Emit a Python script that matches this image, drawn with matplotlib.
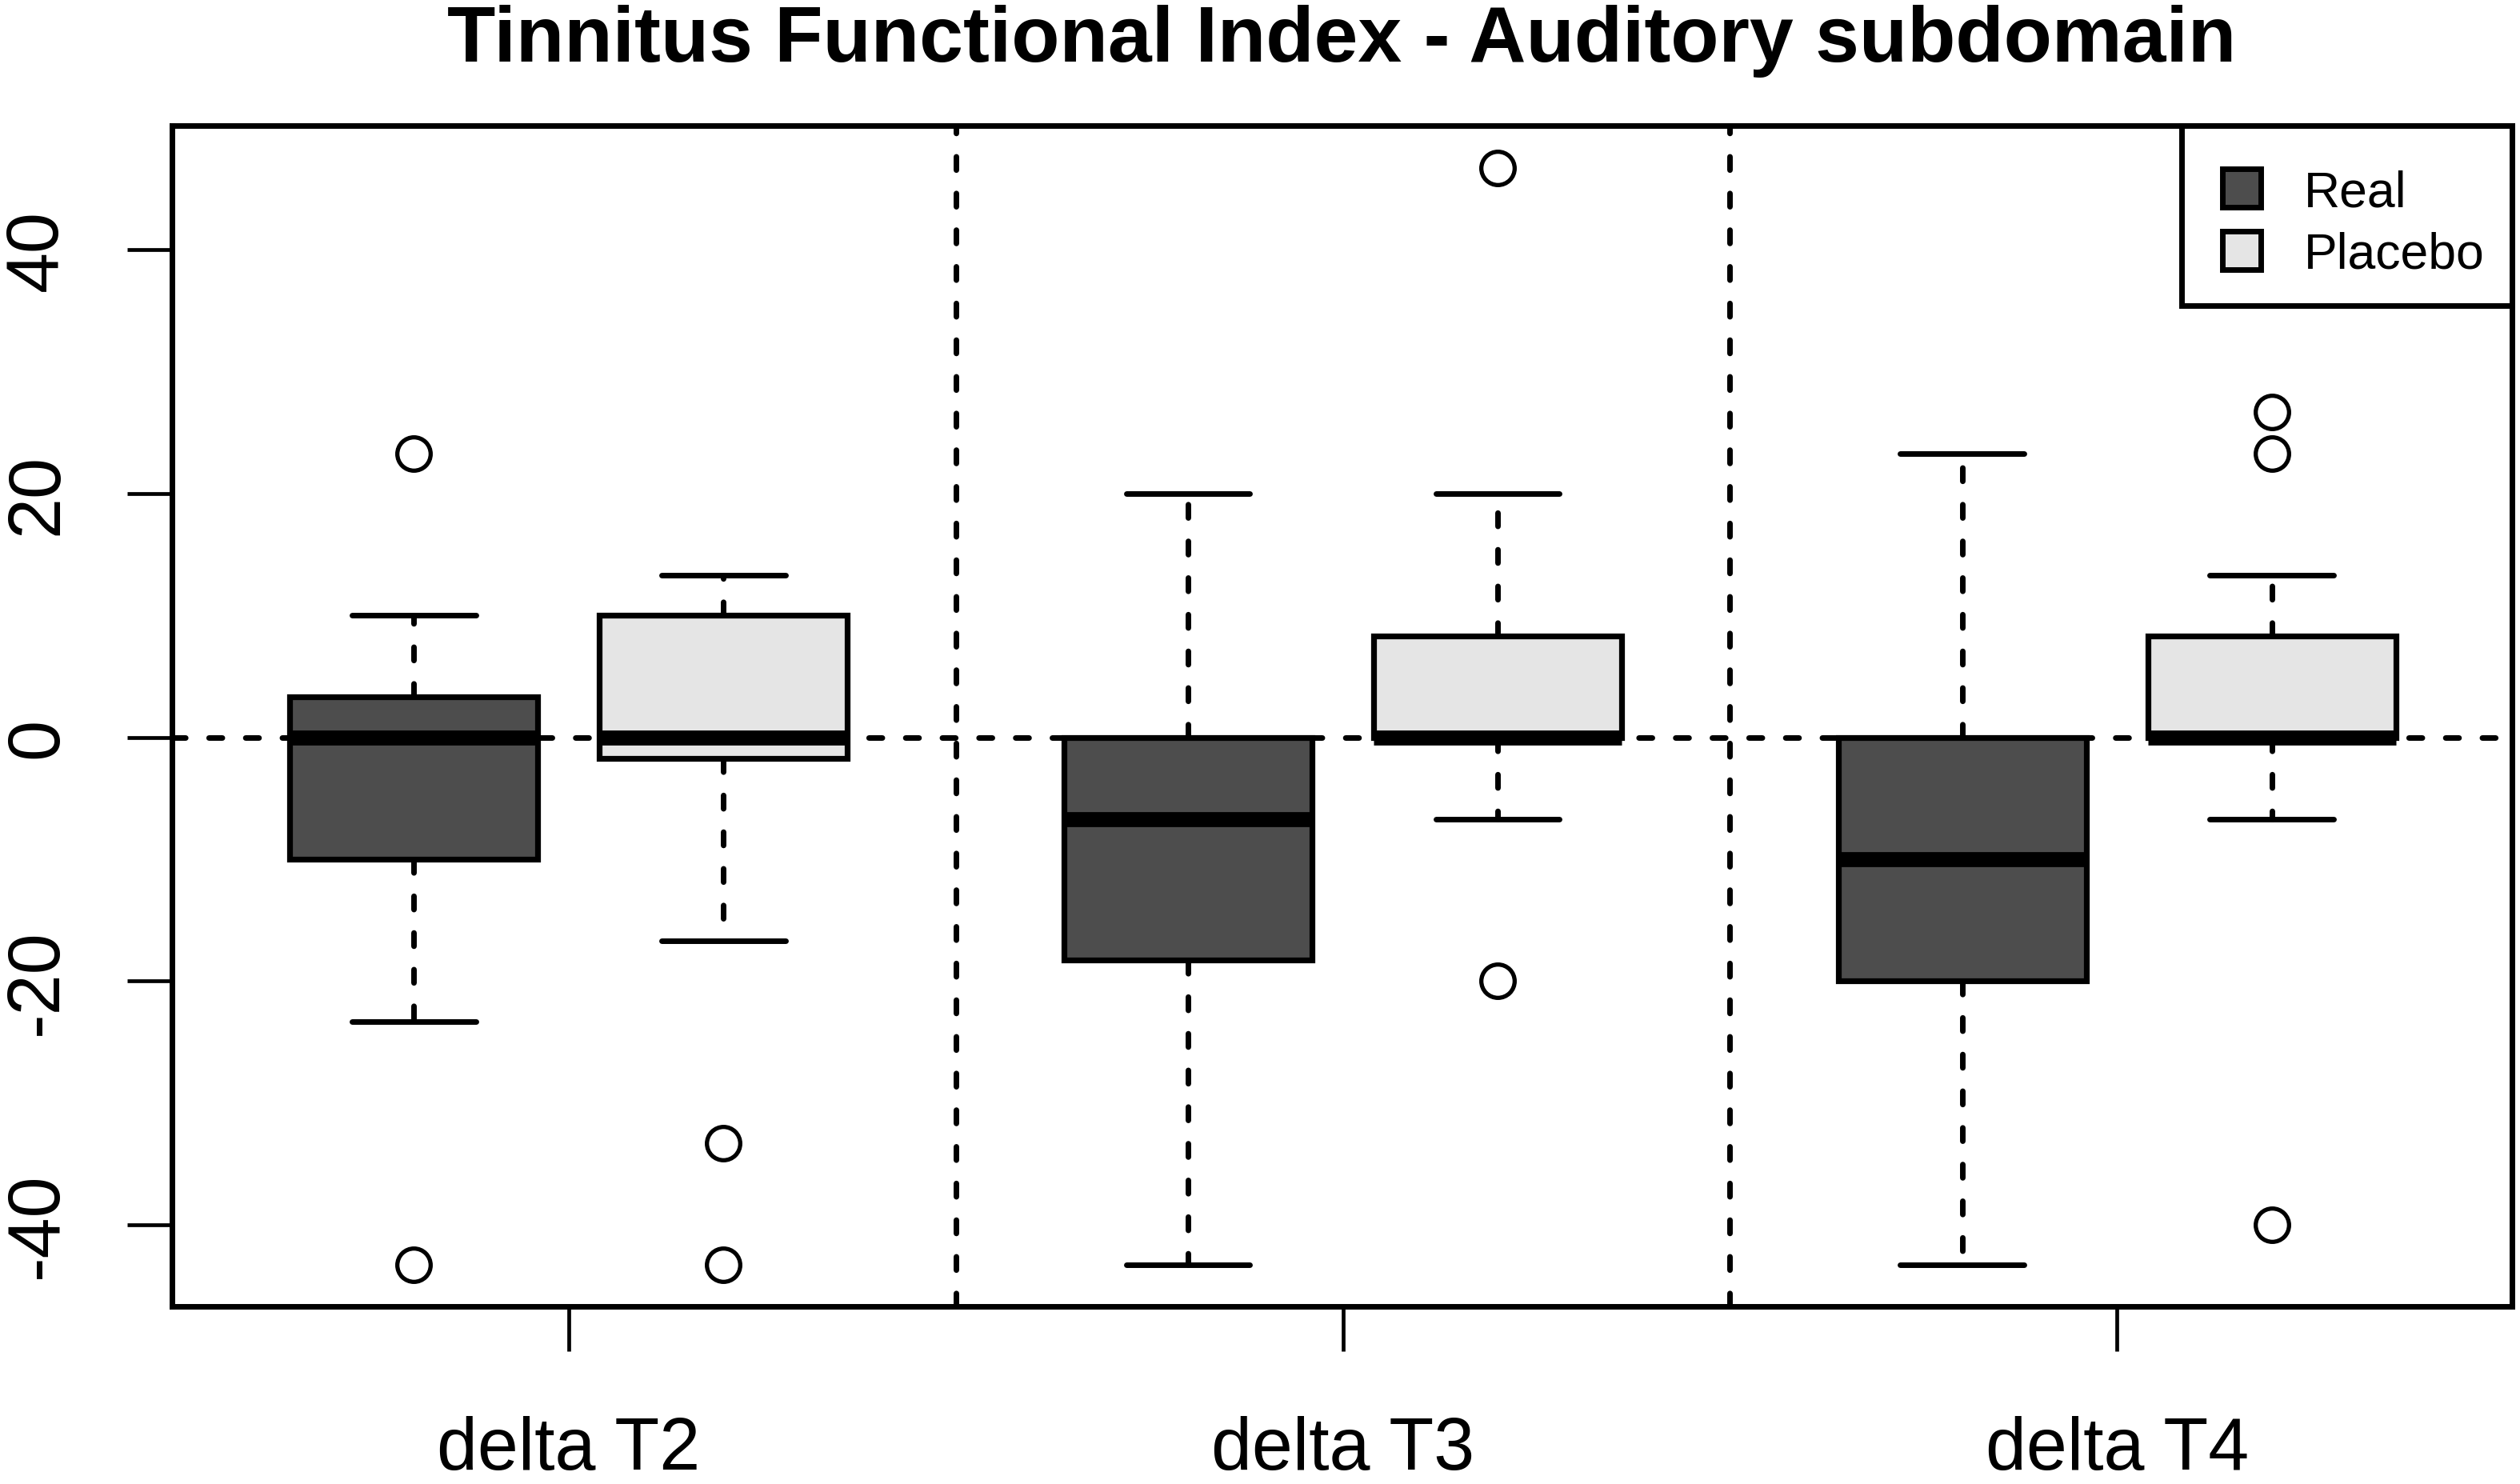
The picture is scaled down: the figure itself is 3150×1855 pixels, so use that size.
import matplotlib
matplotlib.use("Agg")
import matplotlib.pyplot as plt
from matplotlib.lines import Line2D

plt.rcParams['font.family'] = ['Liberation Sans', 'DejaVu Sans']
plt.rcParams['axes.unicode_minus'] = False

# values
groups = ["delta T2", "delta T3", "delta T4"]
group_pos = [1, 2, 3]

real_q1 = [-10.0, -18.3, -20.0]
real_med = [0.0, -6.7, -10.0]
real_q3 = [3.3, 0.0, 0.0]
real_whislo = [-23.3, -43.3, -43.3]
real_whishi = [10.0, 20.0, 23.3]
real_fliers = [[23.3, -43.3], [], []]

plac_q1 = [-1.7, 0.0, 0.0]
plac_med = [0.0, 0.0, 0.0]
plac_q3 = [10.0, 8.3, 8.3]
plac_whislo = [-16.7, -6.7, -6.7]
plac_whishi = [13.3, 20.0, 13.3]
plac_fliers = [[-33.3, -43.3], [46.7, -20.0], [26.7, 23.3, -40.0]]

yticks = [-40, -20, 0, 20, 40]
real_color = "#4D4D4D"
plac_color = "#E5E5E5"


def make_stats(q1, med, q3, lo, hi, fl):
    return [dict(q1=a, med=b, q3=c, whislo=d, whishi=e, fliers=f)
            for a, b, c, d, e, f in zip(q1, med, q3, lo, hi, fl)]


fig = plt.figure(figsize=(31.5, 18.56), dpi=100)
ax = fig.add_axes([0.0683, 0.1196, 0.9285, 0.7953])

dash = (0, (2.4, 4.2))

# reference lines under the boxes
ax.axhline(0, color="black", lw=5, ls=dash, dash_capstyle="round", zorder=1)
for x in [1.5, 2.5]:
    ax.axvline(x, color="black", lw=5, ls=dash, dash_capstyle="round", zorder=1)

box_lw = 5.2
common = dict(widths=0.32, capwidths=0.16, patch_artist=True,
              medianprops=dict(color="black", lw=13.5, solid_capstyle="butt"),
              whiskerprops=dict(color="black", lw=5, ls=dash, dash_capstyle="round"),
              capprops=dict(color="black", lw=5, solid_capstyle="round"),
              flierprops=dict(marker="o", markersize=30, markerfacecolor="none",
                              markeredgecolor="black", markeredgewidth=3.8),
              manage_ticks=False)

real_pos = [p - 0.2 for p in group_pos]
plac_pos = [p + 0.2 for p in group_pos]
ax.bxp(make_stats(real_q1, real_med, real_q3, real_whislo, real_whishi, real_fliers),
       positions=real_pos,
       boxprops=dict(facecolor=real_color, edgecolor="black", lw=box_lw),
       **common)
ax.bxp(make_stats(plac_q1, plac_med, plac_q3, plac_whislo, plac_whishi, plac_fliers),
       positions=plac_pos,
       boxprops=dict(facecolor=plac_color, edgecolor="black", lw=box_lw),
       **common)

ax.set_xlim(0.488, 3.51)
ax.set_ylim(-46.7, 50.2)
ax.set_xticks(group_pos)
ax.set_xticklabels(groups, fontsize=66)
ax.set_yticks(yticks)
ax.set_yticklabels([str(t) for t in yticks], fontsize=66, rotation=90, va="center")
ax.tick_params(axis="both", length=40, width=3.4, color="black")
ax.tick_params(axis="x", pad=58)
ax.tick_params(axis="y", pad=50)
for sp in ax.spines.values():
    sp.set_linewidth(5)

fig.text(0.5 * (0.0683 + 0.9968), 1 - 77 / 1856, "Tinnitus Functional Index - Auditory subdomain",
         ha="center", va="baseline", fontsize=71, fontweight="bold")

# square markers centred in a wider handle box, like R's legend fill boxes;
# a tiny blank title gives the extra space above the rows
handles = [Line2D([], [], ls="none", marker="s", markersize=34,
                  markerfacecolor=c, markeredgecolor="black", markeredgewidth=5)
           for c in [real_color, plac_color]]
leg = ax.legend(handles, ["Real", "Placebo"], loc="upper right", fontsize=45,
                title=" ", title_fontsize=1,
                borderaxespad=0, fancybox=False, framealpha=1, edgecolor="black",
                handlelength=1.3, handletextpad=0.6,
                borderpad=0.55, labelspacing=0.3, numpoints=1)
leg.get_frame().set_linewidth(5)

fig.savefig("out.png", dpi=100)
